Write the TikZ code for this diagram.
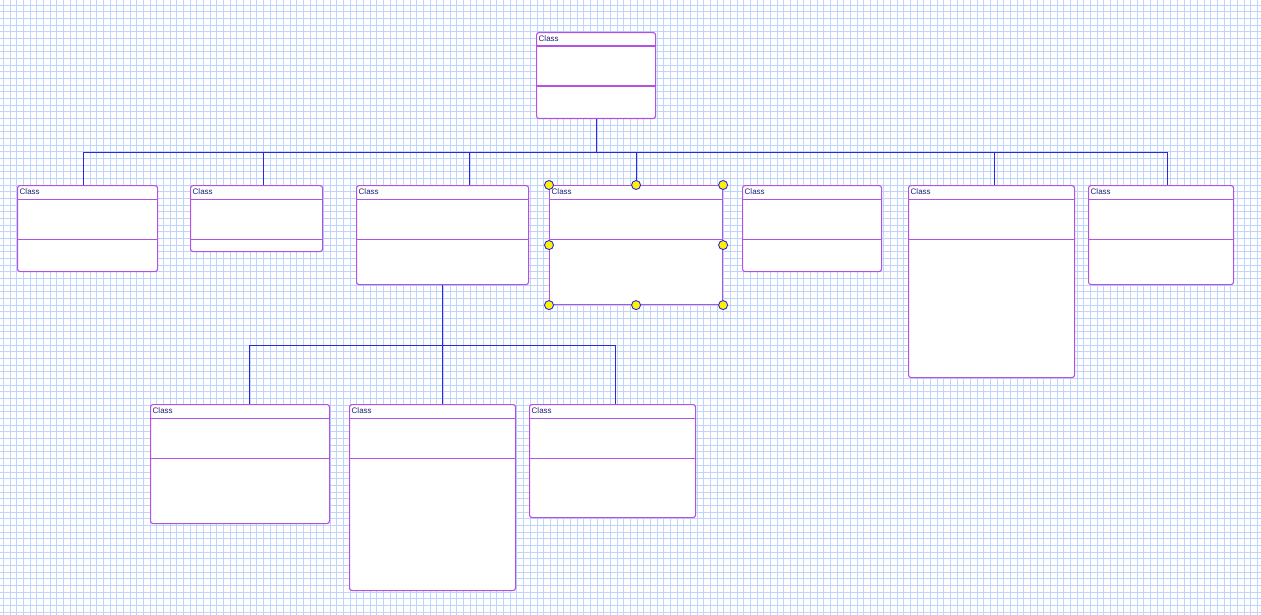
\documentclass[tikz,border=0pt]{standalone}
\usepackage{fontspec}
\setmainfont{Liberation Sans}
\definecolor{gridblue}{RGB}{190,212,250}
\definecolor{linkblue}{RGB}{40,40,225}
\definecolor{boxpurple}{RGB}{178,82,226}
\definecolor{namenavy}{RGB}{30,30,120}
\tikzset{
  classbox/.style={draw=boxpurple, line width=1.1pt, fill=white, rounded corners=2.5pt,
    anchor=north west, inner sep=0pt,
    path picture={
      \draw[boxpurple, line width=1.1pt] ([yshift=-13.5pt]path picture bounding box.north west) -- ([yshift=-13.5pt]path picture bounding box.north east);
      \draw[boxpurple, line width=1.1pt] ([yshift=-53.5pt]path picture bounding box.north west) -- ([yshift=-53.5pt]path picture bounding box.north east);
    },
    label={[anchor=north west, inner xsep=2.5pt, inner ysep=3.5pt, font=\fontsize{8}{9}\selectfont, text=namenavy]north west:Class}},
  link/.style={linkblue, line width=1pt},
  handle/.style={fill=yellow, draw=linkblue, line width=0.9pt},
  gridline/.style={gridblue, line width=0.8pt},
}
\begin{document}
\begin{tikzpicture}[x=1pt, y=-1pt]
        \useasboundingbox (0,0) rectangle (1261,615);

        % Draw the paper grid
        \fill[white] (0,0) rectangle (1261,615);
        \begin{scope}
            \clip (0,0) rectangle (1261,615);
            \draw[gridline, step=6.67pt, shift={(3.3,5)}] (-10,-10) grid (1270,625);
        \end{scope}

        % Base class and the first row
        \node[classbox, minimum width=119pt, minimum height=86pt] (base) at (536,32) {};
        \node[classbox, minimum width=140pt, minimum height=86pt] (c1) at (17,185) {};
        \node[classbox, minimum width=132pt, minimum height=66pt] (c2) at (190,185) {};
        \node[classbox, minimum width=172pt, minimum height=99pt] (c3) at (356,185) {};
        \node[classbox, sharp corners, minimum width=173pt, minimum height=119pt] (c4) at (549,185) {};
        \node[classbox, minimum width=139pt, minimum height=86pt] (c5) at (742,185) {};
        \node[classbox, minimum width=166pt, minimum height=192pt] (c6) at (908,185) {};
        \node[classbox, minimum width=145pt, minimum height=99pt] (c7) at (1088,185) {};

        % Second row under c3
        \node[classbox, minimum width=179pt, minimum height=119pt] (s1) at (150,404) {};
        \node[classbox, minimum width=166pt, minimum height=186pt] (s2) at (349,404) {};
        \node[classbox, minimum width=166pt, minimum height=113pt] (s3) at (529,404) {};

        % Connectors
        \coordinate (hub) at ([yshift=-33pt]base.south);
        \coordinate (hub2) at ([yshift=-60pt]c3.south);
        \draw[link] (base.south) -- (hub);
        \foreach \c/\dx in {c1/-4, c2/7, c3/27, c4/0, c6/3, c7/6.5}
            \draw[link] (hub) -| ([xshift=\dx pt]\c.north);
        \draw[link] (c3.south) -- (hub2);
        \foreach \c/\dx in {s1/9.5, s2/10, s3/3}
            \draw[link] (hub2) -| ([xshift=\dx pt]\c.north);

        % Selection handles on c4
        \foreach \a in {north west, north, north east, west, east, south west, south, south east}
            \draw[handle] (c4.\a) circle (4.5pt);
    \end{tikzpicture}
\end{document}
